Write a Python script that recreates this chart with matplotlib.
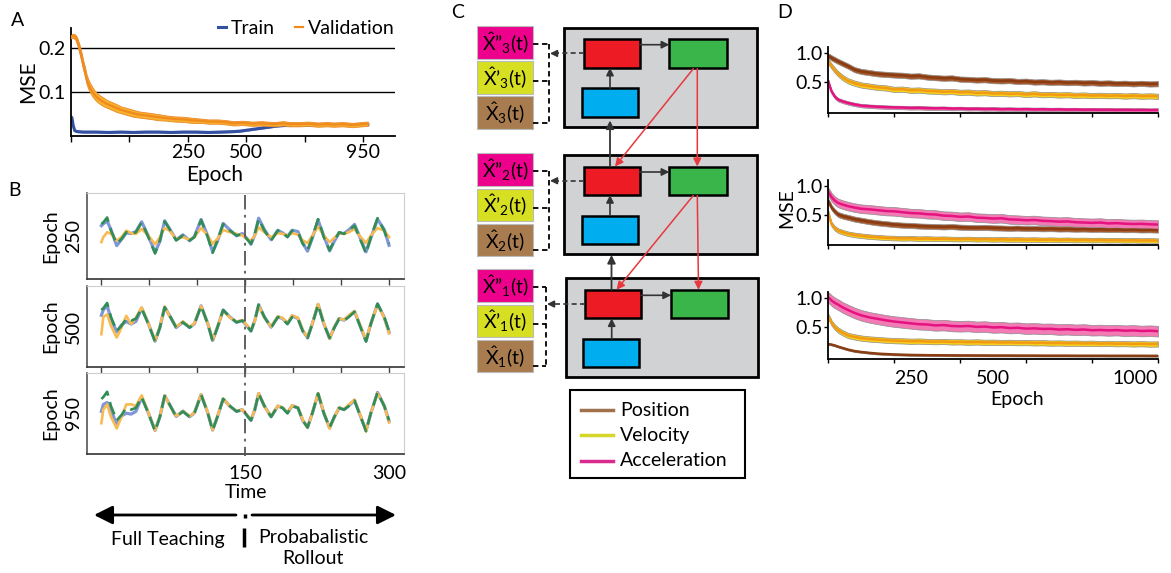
import matplotlib.pyplot as plt
import numpy as np
from matplotlib.patches import Rectangle
from matplotlib.lines import Line2D
from matplotlib.transforms import blended_transform_factory

plt.rcParams['font.family'] = ['Lato', 'DejaVu Sans']
plt.rcParams['mathtext.fontset'] = 'custom'
plt.rcParams['mathtext.rm'] = 'Lato'
plt.rcParams['mathtext.it'] = 'Lato'

# ---------------- DATA ----------------
# A: training curves (MSE vs epoch)
val_epoch = [0, 7, 14, 20, 28, 34, 39, 45, 50, 55, 60, 68, 76, 84, 93, 104, 114, 130, 146, 160,
             175, 199, 220, 253, 280, 306, 330, 360, 385, 413, 440, 470, 500, 520, 550, 580, 610, 627, 650, 680,
             700, 733, 760, 790, 820, 840, 870, 900, 930, 950]
val_mse = [0.226, 0.228, 0.225, 0.216, 0.196, 0.178, 0.161, 0.145, 0.128, 0.118,
           0.110, 0.100, 0.092, 0.086, 0.081, 0.076, 0.072, 0.067, 0.062, 0.058,
           0.055, 0.050, 0.047, 0.044, 0.041, 0.039, 0.037, 0.036, 0.034, 0.033,
           0.031, 0.031, 0.029, 0.027, 0.028, 0.026, 0.027, 0.026, 0.025, 0.027,
           0.025, 0.025, 0.026, 0.024, 0.025, 0.024, 0.025, 0.023, 0.025, 0.026]
val_sd = [0.004, 0.005, 0.006, 0.008, 0.010, 0.011, 0.011, 0.011, 0.011, 0.011,
          0.011, 0.011, 0.010, 0.010, 0.010, 0.010, 0.009, 0.009, 0.009, 0.008,
          0.008, 0.008, 0.007, 0.007, 0.007, 0.006, 0.006, 0.006, 0.006, 0.005,
          0.005, 0.005, 0.005, 0.005, 0.005, 0.005, 0.005, 0.005, 0.005, 0.005,
          0.005, 0.005, 0.005, 0.005, 0.005, 0.005, 0.005, 0.005, 0.005, 0.005]
train_epoch = [0, 3, 7, 12, 20, 40, 80, 120, 160, 200, 240, 280, 320, 360, 400, 440,
               480, 520, 540, 560, 580, 600, 620, 640, 660, 680, 700, 750, 800, 850, 900, 950]
train_mse = [0.042, 0.040, 0.022, 0.010, 0.008, 0.007, 0.007, 0.006, 0.007, 0.006, 0.007,
             0.007, 0.006, 0.007, 0.007, 0.006, 0.007, 0.008, 0.009, 0.011, 0.013, 0.015,
             0.017, 0.019, 0.021, 0.022, 0.022, 0.023, 0.023, 0.024, 0.023, 0.024]
train_sd = 0.0025
a_tick_pos = [0, 187, 374, 561, 748, 935]
a_tick_labels = ['', '', '250', '500', '', '950']

# B: example rollouts at three epochs
b_time = [0, 2, 6, 10, 16, 21, 26, 31, 36, 42, 49, 56, 61, 66, 71, 78, 85, 92, 97, 104,
          111, 116, 121, 127, 134, 141, 147, 153, 156, 160, 164, 170, 177, 184, 189, 194, 199, 205, 210, 215,
          220, 226, 232, 238, 243, 248, 253, 258, 264, 269, 276, 281, 288, 295, 300]
b_target = [0.70, 0.80, 1.10, 0.30, -0.50, -0.20, 0.20, 0.10, 0.20, 0.80,
            -0.10, -1.10, -0.30, 0.86, 0.40, -0.30, 0.00, -0.30, -0.10, 0.94,
            -0.10, -1.06, -0.30, 0.70, 0.30, 0.00, 0.10, -0.30, -0.50, 0.10,
            1.00, 0.30, -0.30, 0.30, 0.20, -0.10, 0.30, 0.20, -0.50, -0.90,
            -0.10, 1.00, -0.10, -0.90, -0.30, 0.20, 0.10, 0.30, 0.60, -0.10,
            -1.10, -0.10, 1.06, 0.30, -0.50]
b_blue_250 = [0.60, 0.72, 0.88, 0.36, -0.62, -0.24, 0.16, 0.12, 0.24, 0.84,
              -0.04, -1.02, -0.36, 0.90, 0.42, -0.26, 0.04, -0.32, -0.06, 0.98,
              -0.04, -1.00, -0.36, 0.74, 0.34, -0.02, 0.12, -0.26, -0.54, 0.04,
              1.06, 0.36, -0.26, 0.32, 0.16, -0.06, 0.32, 0.24, -0.46, -0.96,
              -0.16, 0.94, -0.04, -0.94, -0.34, 0.16, 0.12, 0.34, 0.68, -0.02,
              -1.00, -0.16, 1.00, 0.36, -0.60]
b_orange_250 = [-0.40, -0.10, 0.20, 0.10, -0.30, -0.10, 0.30, 0.14, 0.10, 0.40,
                0.00, -0.54, -0.10, 0.46, 0.30, -0.20, -0.10, -0.26, -0.10, 0.46,
                0.00, -0.50, -0.20, 0.34, 0.20, 0.10, 0.00, -0.26, -0.30, 0.00,
                0.50, 0.20, -0.10, 0.14, 0.10, 0.00, 0.14, 0.06, -0.30, -0.46,
                0.00, 0.54, 0.00, -0.40, -0.14, 0.14, 0.10, 0.20, 0.40, 0.00,
                -0.46, 0.00, 0.46, 0.30, -0.10]
b_blue_500 = [0.40, 0.70, 0.95, 0.20, -0.55, -0.15, 0.05, -0.10, 0.05, 0.80,
              -0.08, -1.08, -0.30, 0.86, 0.40, -0.30, 0.02, -0.30, -0.08, 0.94,
              -0.08, -1.04, -0.30, 0.70, 0.30, 0.00, 0.10, -0.28, -0.50, 0.10,
              1.00, 0.30, -0.28, 0.30, 0.22, -0.08, 0.36, 0.22, -0.48, -0.88,
              -0.08, 1.02, -0.08, -0.92, -0.28, 0.22, 0.12, 0.34, 0.62, -0.08,
              -1.06, -0.08, 1.04, 0.28, -0.56]
b_orange_500 = [-0.68, 0.30, 0.45, -0.20, -0.87, -0.30, 0.37, -0.10, 0.27, 0.85,
                -0.05, -1.05, -0.25, 0.90, 0.36, -0.26, 0.04, -0.26, -0.06, 0.92,
                -0.06, -1.02, -0.26, 0.66, 0.26, 0.04, 0.12, -0.24, -0.44, 0.08,
                0.96, 0.26, -0.24, 0.34, 0.24, -0.04, 0.40, 0.26, -0.44, -0.86,
                -0.06, 1.04, -0.04, -0.94, -0.26, 0.22, 0.14, 0.40, 0.64, -0.04,
                -1.02, -0.06, 1.00, 0.26, -0.64]
b_blue_950 = [0.00, 0.39, 0.50, 0.10, -0.75, -0.25, -0.10, -0.15, 0.00, 0.80,
              -0.08, -1.06, -0.30, 0.88, 0.40, -0.28, 0.02, -0.30, -0.08, 0.94,
              -0.08, -1.04, -0.30, 0.70, 0.30, 0.00, 0.10, -0.30, -0.50, 0.10,
              1.00, 0.30, -0.30, 0.30, 0.20, -0.08, 0.32, 0.20, -0.50, -0.88,
              -0.10, 1.00, -0.10, -0.92, -0.30, 0.20, 0.10, 0.32, 0.62, -0.10,
              -1.08, -0.10, 1.06, 0.32, -0.54]
b_orange_950 = [-0.66, 0.10, 0.39, -0.30, -0.95, -0.30, 0.39, 0.40, 0.30, 0.90,
                -0.06, -1.06, -0.26, 0.90, 0.36, -0.26, 0.02, -0.26, -0.08, 0.96,
                -0.06, -1.04, -0.28, 0.72, 0.28, 0.02, 0.10, -0.26, -0.48, 0.10,
                1.02, 0.28, -0.28, 0.32, 0.22, -0.06, 0.34, 0.22, -0.46, -0.92,
                -0.08, 1.02, -0.06, -0.96, -0.30, 0.22, 0.12, 0.38, 0.66, -0.06,
                -1.12, -0.08, 1.02, 0.30, -0.62]
b_epochs = ['250', '500', '950']

# D: per-layer MSE for position / velocity / acceleration
d_epoch = [0, 5, 10, 20, 30, 45, 60, 80, 100] + list(range(125, 1001, 25))
d1_pos = [0.94, 0.93, 0.91, 0.88, 0.85, 0.81, 0.77, 0.71, 0.68,
          0.66, 0.64, 0.63, 0.62, 0.615, 0.60, 0.605, 0.585, 0.575, 0.565, 0.57, 0.55,
          0.545, 0.535, 0.54, 0.525, 0.52, 0.525, 0.51, 0.515, 0.50, 0.505, 0.495,
          0.50, 0.49, 0.495, 0.485, 0.49, 0.48, 0.485, 0.475, 0.48, 0.47, 0.478, 0.468, 0.472]
d1_vel = [0.85, 0.81, 0.77, 0.70, 0.64, 0.57, 0.52, 0.48, 0.45,
          0.43, 0.41, 0.40, 0.375, 0.38, 0.36, 0.365, 0.35, 0.345, 0.335, 0.34, 0.325,
          0.33, 0.315, 0.32, 0.305, 0.31, 0.30, 0.305, 0.29, 0.30, 0.285, 0.29,
          0.28, 0.285, 0.275, 0.28, 0.27, 0.275, 0.268, 0.272, 0.262, 0.27, 0.26, 0.265, 0.258]
d1_acc = [0.51, 0.42, 0.34, 0.25, 0.20, 0.17, 0.145, 0.12, 0.10,
          0.09, 0.082, 0.075, 0.07, 0.068, 0.062, 0.064, 0.058, 0.055, 0.057, 0.05, 0.052,
          0.046, 0.048, 0.043, 0.045, 0.04, 0.042, 0.038, 0.04, 0.036, 0.038, 0.034,
          0.036, 0.032, 0.034, 0.03, 0.032, 0.029, 0.03, 0.027, 0.029, 0.026, 0.027, 0.024, 0.026]
d2_pos = [0.73, 0.68, 0.62, 0.55, 0.50, 0.47, 0.45, 0.42, 0.40,
          0.375, 0.355, 0.34, 0.325, 0.315, 0.31, 0.30, 0.295, 0.29, 0.285, 0.29, 0.28,
          0.275, 0.272, 0.276, 0.268, 0.265, 0.26, 0.264, 0.256, 0.258, 0.252, 0.255,
          0.248, 0.25, 0.245, 0.248, 0.242, 0.244, 0.238, 0.24, 0.235, 0.238, 0.232, 0.234, 0.23]
d2_vel = [0.53, 0.42, 0.33, 0.26, 0.22, 0.19, 0.165, 0.145, 0.13,
          0.115, 0.105, 0.095, 0.09, 0.085, 0.088, 0.08, 0.083, 0.077, 0.08, 0.074, 0.072,
          0.075, 0.069, 0.072, 0.066, 0.07, 0.064, 0.067, 0.062, 0.065, 0.06, 0.063,
          0.058, 0.061, 0.056, 0.058, 0.054, 0.057, 0.052, 0.055, 0.05, 0.053, 0.048, 0.05, 0.046]
d2_acc = [0.89, 0.85, 0.80, 0.74, 0.70, 0.67, 0.645, 0.62, 0.60,
          0.59, 0.575, 0.56, 0.555, 0.54, 0.525, 0.52, 0.505, 0.50, 0.48, 0.475, 0.46,
          0.465, 0.445, 0.44, 0.43, 0.435, 0.415, 0.41, 0.40, 0.405, 0.39, 0.385,
          0.375, 0.38, 0.365, 0.36, 0.355, 0.36, 0.345, 0.35, 0.34, 0.335, 0.338, 0.33, 0.325]
d3_pos = [0.21, 0.21, 0.205, 0.19, 0.17, 0.145, 0.12, 0.095, 0.08,
          0.065, 0.052, 0.045, 0.038, 0.034, 0.030, 0.028, 0.026, 0.025, 0.024, 0.023, 0.022,
          0.022, 0.021, 0.021, 0.020, 0.020, 0.020, 0.019, 0.019, 0.019, 0.018, 0.018,
          0.018, 0.018, 0.017, 0.017, 0.017, 0.017, 0.016, 0.016, 0.016, 0.016, 0.016, 0.015, 0.015]
d3_vel = [0.68, 0.63, 0.57, 0.50, 0.45, 0.40, 0.36, 0.335, 0.315,
          0.30, 0.29, 0.28, 0.272, 0.268, 0.262, 0.265, 0.258, 0.255, 0.258, 0.25, 0.252,
          0.246, 0.25, 0.243, 0.246, 0.24, 0.243, 0.237, 0.24, 0.234, 0.237, 0.23,
          0.233, 0.228, 0.23, 0.225, 0.228, 0.222, 0.225, 0.22, 0.222, 0.216, 0.22, 0.214, 0.216]
d3_acc = [1.00, 0.98, 0.95, 0.91, 0.88, 0.83, 0.79, 0.74, 0.70,
          0.665, 0.64, 0.615, 0.595, 0.58, 0.565, 0.55, 0.545, 0.53, 0.535, 0.52, 0.515,
          0.52, 0.505, 0.51, 0.495, 0.50, 0.485, 0.49, 0.475, 0.48, 0.47, 0.472,
          0.46, 0.465, 0.455, 0.46, 0.448, 0.452, 0.445, 0.45, 0.44, 0.445, 0.435, 0.44, 0.432]
# band half-widths (pos, vel, acc) per layer
d_sd = [(0.045, 0.045, 0.03), (0.045, 0.04, 0.075), (0.015, 0.045, 0.09)]
d_tick_labels = ['250', '500', '1000']

# ---------------- FIGURE ----------------
W, H = 1171, 573
fig = plt.figure(figsize=(W / 100, H / 100), dpi=100)


def box(l, t, r, b):
    return [l / W, 1 - b / H, (r - l) / W, (b - t) / H]


FS = 14

# ---- Panel A ----
axA = fig.add_axes(box(71, 28, 395, 135.5))
tm = np.array(train_mse)
axA.fill_between(train_epoch, tm - train_sd, tm + train_sd, color='#6a80c8', lw=0, zorder=2)
axA.plot(train_epoch, tm, color='#3450a0', lw=2.2, zorder=2, label='Train')
vm, vs = np.array(val_mse), np.array(val_sd)
axA.fill_between(val_epoch, vm - vs, vm + vs, color='#f8b12c', edgecolor='#e98a2a', lw=0.6, zorder=3)
axA.plot(val_epoch, vm, color='#f08a1e', lw=1.6, zorder=3, label='Validation')
axA.set_xlim(0, 1037)
axA.set_ylim(-0.001, 0.246)
axA.set_yticks([0.1, 0.2], ['0.1', '0.2'])
axA.yaxis.grid(True, color='black', lw=1)
axA.set_xticks(a_tick_pos, a_tick_labels)
axA.tick_params(axis='x', length=4, width=1, labelsize=FS, pad=2)
axA.tick_params(axis='y', length=0, labelsize=FS, pad=4)
for s in ['top', 'right']:
    axA.spines[s].set_visible(False)
for s in ['left', 'bottom']:
    axA.spines[s].set_linewidth(1.3)
axA.set_ylabel('MSE', fontsize=15)
axA.yaxis.set_label_coords(-0.1, 0.5)
axA.set_xlabel('Epoch', fontsize=15)
axA.xaxis.set_label_coords(0.444, -0.27)
axA.legend(ncol=2, loc='center right', bbox_to_anchor=(1.0, 1.0), frameon=False,
           handlelength=0.45, handletextpad=0.25, columnspacing=1.0, fontsize=FS,
           borderaxespad=0, borderpad=0)

# ---- Panel B ----
b_boxes = [(87, 193, 404, 279), (87, 286, 404, 367), (87, 373, 404, 454)]
b_ylims = [(-2.66, 2.6), (-2.55, 2.07), (-2.38, 2.15)]
b_blue = [b_blue_250, b_blue_500, b_blue_950]
b_orange = [b_orange_250, b_orange_500, b_orange_950]
axesB = []
for i in range(3):
    ax = fig.add_axes(box(*b_boxes[i]))
    ax.plot(b_time, b_blue[i], color='#7f96d8', lw=2.3, solid_joinstyle='round')
    ax.plot(b_time, b_orange[i], color='#f9ba52', lw=1.9, solid_joinstyle='round')
    ax.plot(b_time, b_target, color='#2f8d55', lw=1.9, ls=(0, (5, 2.5)))
    ax.set_xlim(-15, 315.6)
    ax.set_ylim(*b_ylims[i])
    ax.set_yticks([])
    for s in ['top', 'right']:
        ax.spines[s].set_color('#cfcfcf')
    ax.spines['left'].set_color('#555555')
    ax.spines['bottom'].set_color('#333333')
    ax.spines['left'].set_linewidth(1.2)
    ax.spines['bottom'].set_linewidth(1.2)
    ax.set_ylabel('Epoch\n' + b_epochs[i], fontsize=FS, linespacing=1.45)
    ax.yaxis.set_label_coords(-0.015, 0.5)
    if i < 2:
        ax.set_xticks(np.arange(0, 301, 50), [''] * 7)
        ax.tick_params(axis='x', length=4, width=1, color='#444444')
    else:
        ax.set_xticks([150, 300], ['150', '300'])
        ax.tick_params(axis='x', length=0, labelsize=FS, pad=8)
        ax.set_xlabel('Time', fontsize=FS)
        ax.xaxis.set_label_coords(0.502, -0.37)
    axesB.append(ax)

# dash-dot switch line at t = 150 across the three panels
tr = blended_transform_factory(axesB[2].transData, fig.transFigure)
fig.add_artist(Line2D([150, 150], [1 - 195 / H, 1 - 456 / H], transform=tr,
                      color='#555555', lw=1.3, ls=(0, (8, 3, 1.5, 3))))

# ---- overlay for annotations and diagram (pixel coords) ----
ov = fig.add_axes([0, 0, 1, 1])
ov.set_xlim(0, W)
ov.set_ylim(H, 0)
ov.axis('off')
ov.patch.set_visible(False)

# panel letters
for letter, x, y in [('A', 18, 21), ('B', 14, 190), ('C', 458, 13), ('D', 785, 12)]:
    ov.text(x, y, letter, fontsize=FS, ha='center', va='center')

# B arrows below the time axis
arr = dict(arrowstyle='-|>', color='black', lw=2, mutation_scale=28, shrinkA=0, shrinkB=0)
ov.annotate('', xy=(94, 515), xytext=(236, 515), arrowprops=arr)
ov.annotate('', xy=(396, 515), xytext=(252, 515), arrowprops=arr)
ov.plot([245, 245], [514, 518], color='black', lw=2.5, solid_capstyle='butt')
ov.plot([244, 244], [528, 547], color='black', lw=2.5, solid_capstyle='butt')
ov.text(168, 540, 'Full Teaching', fontsize=FS, ha='center', va='center')
ov.text(313, 548, 'Probabalistic\nRollout', fontsize=FS, ha='center', va='center',
        linespacing=1.3)

# ---- Panel C: diagram ----
C_RED, C_GREEN, C_BLUE = '#ed1c24', '#39b54a', '#00aeef'
C_MAG, C_YEL, C_BRN = '#ec008c', '#d7df23', '#a97c50'
modules = [(564, 27.7, 26, 549, '3'), (564, 155, 153.3, 549, '2'), (565.7, 278.3, 269.3, 546, '1')]
primes = ['\u201d', '\u2019', '']
for L, T, lab_top, bx, k in modules:
    ov.add_patch(Rectangle((L, T), 192.7, 99, facecolor='#d1d2d4', edgecolor='black', lw=2))
    red = (L + 19.5, T + 11.5, 56, 28.5)
    grn = (L + 105.3, T + 11.5, 57.4, 28.5)
    blu = (L + 17.7, T + 60.5, 56, 28.5)
    for (x0, y0, w, h), c in [(red, C_RED), (grn, C_GREEN), (blu, C_BLUE)]:
        ov.add_patch(Rectangle((x0, y0), w, h, facecolor=c, edgecolor='black', lw=1.8))
    ya = T + 11.5 + 5.5
    ov.annotate('', xy=(grn[0], ya), xytext=(red[0] + red[2], ya),
                arrowprops=dict(arrowstyle='-|>', color='#333333', lw=1.2, mutation_scale=11,
                                shrinkA=0, shrinkB=0))
    ov.annotate('', xy=(L + 46, T + 40), xytext=(L + 46, T + 60.5),
                arrowprops=dict(arrowstyle='-|>', color='#333333', lw=1.2, mutation_scale=11,
                                shrinkA=0, shrinkB=0))
    # dashed output arrow to the labels
    yc = T + 11.5 + 14.25
    ov.plot([red[0], bx + 7], [yc, yc], color='#333333', lw=1.2, ls=(0, (3, 2)))
    ov.annotate('', xy=(bx + 1, yc), xytext=(bx + 8, yc),
                arrowprops=dict(arrowstyle='-|>', color='#333333', lw=1.2, mutation_scale=10,
                                shrinkA=0, shrinkB=0))
    # label boxes and dashed bracket
    for j, (c, pr) in enumerate(zip([C_MAG, C_YEL, C_BRN], primes)):
        y0 = lab_top + j * 35.2
        ov.add_patch(Rectangle((477.3, y0), 55.4, 32.5, facecolor=c, edgecolor='#bbbbbb', lw=0.8))
        ov.text(505, y0 + 17, r'$\hat{\mathrm{X}}$' + pr + r'$_{' + k + '}$(t)', fontsize=14,
                ha='center', va='center')
    stubs = [lab_top + 18, lab_top + 54.5, lab_top + 97]
    for ys in stubs:
        ov.plot([533, bx], [ys, ys], color='black', lw=1.3, ls=(0, (3, 2)))
    ov.plot([bx, bx], [stubs[0], stubs[2]], color='black', lw=1.3, ls=(0, (3, 2)))

# arrows between modules
blk = dict(arrowstyle='-|>', color='#333333', lw=1.3, mutation_scale=12, shrinkA=0, shrinkB=0)
ov.annotate('', xy=(610, 120.5), xytext=(610, 166.5), arrowprops=blk)
ov.annotate('', xy=(611.5, 255), xytext=(611.5, 289.8), arrowprops=blk)
redarr = dict(arrowstyle='-|>', color='#e8383d', lw=1.1, mutation_scale=12, shrinkA=0, shrinkB=0)
ov.annotate('', xy=(615, 166.5), xytext=(693.3, 68.7), arrowprops=redarr)
ov.annotate('', xy=(697.3, 166.5), xytext=(697.3, 68.7), arrowprops=redarr)
ov.annotate('', xy=(616.5, 289.8), xytext=(693.3, 195.5), arrowprops=redarr)
ov.annotate('', xy=(698.5, 289.8), xytext=(697.3, 195.5), arrowprops=redarr)

# legend box of panel C
ov.add_patch(Rectangle((570, 390), 175, 87.7, facecolor='white', edgecolor='black', lw=1.5))
for name, c, y in [('Position', '#a0714b', 410), ('Velocity', '#d6d62b', 435),
                   ('Acceleration', '#d92a8e', 461)]:
    ov.plot([580.7, 612.7], [y, y], color=c, lw=2.5)
    ov.text(620, y, name, fontsize=FS, va='center', ha='left')

# ---- Panel D ----
d_boxes = [(828.3, 46.7, 1158, 113.3), (828.3, 180, 1158, 245), (828.3, 291.7, 1158, 358.5)]
d_series = [(d1_pos, d1_vel, d1_acc), (d2_pos, d2_vel, d2_acc), (d3_pos, d3_vel, d3_acc)]
band_cols = ['#a85a2c', '#f6d01c', '#f27ab5']
line_cols = ['#8a3c12', '#f39a14', '#e5137f']
for i in range(3):
    ax = fig.add_axes(box(*d_boxes[i]))
    for m, sd, bc, lc in zip(d_series[i], d_sd[i], band_cols, line_cols):
        m = np.array(m)
        ax.fill_between(d_epoch, m - sd, m + sd, color=bc, edgecolor='#8c8c8c', lw=0.5)
        ax.plot(d_epoch, m, color=lc, lw=1.8)
    ax.set_xlim(0, 1000)
    ax.set_ylim(-0.03, 1.1)
    ax.set_yticks([0.5, 1.0], ['0.5', '1.0'])
    ax.tick_params(axis='y', length=3, width=1, labelsize=FS, pad=1)
    ax.set_xticks(np.arange(0, 1001, 200))
    ax.set_xticklabels([])
    ax.tick_params(axis='x', which='major', length=3, width=1)
    if i == 2:
        ax.xaxis.remove_overlapping_locs = False
        ax.set_xticks([250, 500, 1000], d_tick_labels, minor=True)
        ax.tick_params(axis='x', which='minor', length=0, labelsize=FS, pad=8)
        labs = ax.get_xticklabels(minor=True)
        labs[-1].set_horizontalalignment('right')
        ax.set_xlabel('Epoch', fontsize=FS)
        ax.xaxis.set_label_coords(0.572, -0.48)
    if i == 1:
        ax.set_ylabel('MSE', fontsize=FS)
        ax.yaxis.set_label_coords(-0.1, 0.57)
    for s in ['top', 'right']:
        ax.spines[s].set_visible(False)
    for s in ['left', 'bottom']:
        ax.spines[s].set_linewidth(1.3)

fig.savefig('out.png', dpi=100)
